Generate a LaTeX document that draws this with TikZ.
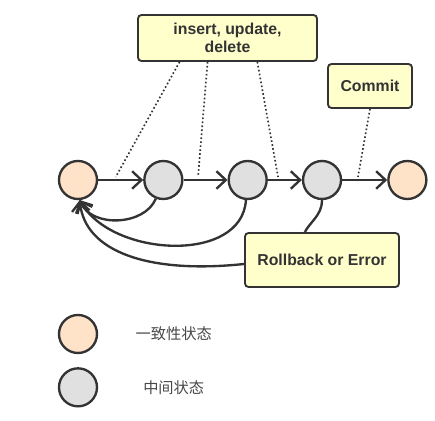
\documentclass[tikz,border=0pt]{standalone}
\usepackage{fontspec}
\setmainfont{Liberation Sans}
\newfontfamily\cjk{Noto Sans CJK SC}
\usetikzlibrary{positioning,calc,arrows.meta}
\definecolor{peach}{HTML}{FFE3C8}
\definecolor{midgray}{HTML}{E0E0E0}
\definecolor{notefill}{HTML}{FFFFCC}
\definecolor{ink}{HTML}{333333}
\tikzset{
	state/.style={circle, draw=ink, line width=2pt, minimum size=1.14cm, inner sep=0pt},
	stable/.style={state, fill=peach},
	middle/.style={state, fill=midgray},
	note/.style={draw=ink, line width=1.6pt, fill=notefill, rounded corners=3pt, text=ink, align=center, font=\bfseries\fontsize{13.5}{15.5}\selectfont},
	go/.style={draw=ink, line width=2pt, -{Straight Barb[length=8pt,width=15pt]}},
	back/.style={draw=ink, line width=2pt, -{Straight Barb[length=8pt,width=15pt]}},
	wire/.style={draw=ink, line width=2pt},
	link/.style={draw=ink, dotted, line width=1.4pt},
	legend/.style={text=ink!90, font=\cjk\fontsize{13}{15}\selectfont},
}

\begin{document}
\begin{tikzpicture}[x=0.03cm, y=0.03cm]
	\useasboundingbox (0,0) rectangle (435,421);

	\node [stable] (a) at (78,241) {};
	\node [middle, right=1.35cm of a] (b) {};
	\node [middle, right=1.32cm of b] (c) {};
	\node [middle, right=1.02cm of c] (d) {};
	\node [stable, right=1.35cm of d] (e) {};

	\node [note, minimum width=5.37cm, minimum height=1.38cm] (ins) at (227.5,383) {insert, update,\\delete};
	\node [note, minimum width=2.52cm, minimum height=1.32cm] (com) at (370,335) {Commit};
	\node [note, minimum width=4.62cm, minimum height=1.62cm] (rb) at (322,161) {Rollback or Error};

	\node [stable] (la) at (78,87) {};
	\node [middle, below=0.39cm of la] (lb) {};
	\node [legend, right=1cm of la] (t1) {一致性状态};
	\node [legend] (t2) at (t1 |- lb) {中间状态};

	\coordinate (u1) at ($(a.east)!0.39!(b.west)+(0,3)$);
	\coordinate (u2) at ($(b.east)!0.33!(c.west)+(0,3)$);
	\coordinate (u3) at ($(c.east)!0.3!(d.west)+(0,3)$);
	\coordinate (u4) at ($(d.east)!0.35!(e.west)+(0,3)$);
	\coordinate (r) at ($(rb.north west)!0.39!(rb.north east)$);

	\draw [go] (a) -- (b);
	\draw [go] (b) -- (c);
	\draw [go] (c) -- (d);
	\draw [go] (d) -- (e);

	\draw [link] ($(ins.south west)!0.235!(ins.south east)$) -- (u1);
	\draw [link] ($(ins.south west)!0.39!(ins.south east)$) -- (u2);
	\draw [link] ($(ins.south west)!0.665!(ins.south east)$) -- (u3);
	\draw [link] (com.south) -- (u4);

	\draw [back] (b.-112) .. controls +(-11,-27) and +(12,-28) .. (a.-85);
	\draw [back] (c.-95) .. controls +(-4,-64) and +(32,-57) .. (a.-85);
	\draw [wire] (d.-90) .. controls +(0,-15) and +(5,10) .. (r);
	\draw [back] ($(rb.west)+(0,-4)$) .. controls +(-95,-10) and +(5,-52) .. (a.-85);
\end{tikzpicture}
\end{document}
